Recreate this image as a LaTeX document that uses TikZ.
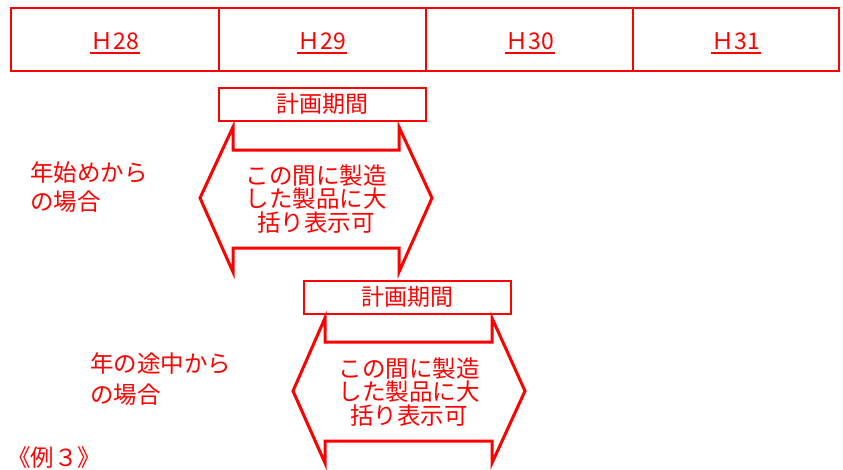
\documentclass[tikz,border=0pt]{standalone}
\usepackage{fontspec}
\setmainfont{Noto Sans CJK JP}
\usetikzlibrary{calc}
\definecolor{redA}{HTML}{FF0000}
\tikzset{
  tbl/.style={draw=redA,line width=2.2pt},
  yearlab/.style={text=redA,inner sep=0pt,anchor=base,font=\fontsize{23}{24}\selectfont},
  uline/.style={draw=redA,line width=2.4pt},
  periodbox/.style={draw=redA,line width=2pt,minimum width=207pt,minimum height=33pt,inner sep=0pt,text=redA,font=\fontsize{23}{24}\selectfont},
  arrowshape/.style={draw=redA,line width=3pt,line join=miter},
  arrowtext/.style={text=redA,align=center,inner sep=0pt,font=\fontsize{23.5}{23.5}\selectfont},
  sidelab/.style={text=redA,align=left,inner sep=0pt,anchor=west,font=\fontsize{23.5}{29.5}\selectfont}
}
\begin{document}
\begin{tikzpicture}[x=1pt,y=-1pt]
\useasboundingbox (0,0) rectangle (843,469);
% table
\draw[tbl] (11,8) rectangle (839,71);
\draw[tbl] (219,8) -- (219,71);
\draw[tbl] (426,8) -- (426,71);
\draw[tbl] (633,8) -- (633,71);
\node[yearlab] (h28) at (115,49) {Ｈ28};
\node[yearlab] (h29) at (322,49) {Ｈ29};
\node[yearlab] (h30) at (530,49) {Ｈ30};
\node[yearlab] (h31) at (736,49) {Ｈ31};
\foreach \n in {h28,h29,h30,h31}{
  \draw[uline] ($(\n.base west)+(-1,4)$) -- ($(\n.base east)+(1,4)$);
}
% first case
\node[periodbox] (p1) at (322.5,104) {計画期間};
\draw[arrowshape] (233,127) -- (233,150) -- (399,150) -- (399,127) -- (432,198)
  -- (399,272) -- (399,248) -- (233,248) -- (233,272) -- (200,198) -- cycle;
\node[arrowtext] (t1) at (316,199) {この間に製造\\した製品に大\\括り表示可};
\node[sidelab] (l1) at (30,187) {年始めから\\の場合};
% second case
\node[periodbox] (p2) at (407,297) {計画期間};
\draw[arrowshape] (325,318) -- (325,342) -- (492,342) -- (492,318) -- (525,391)
  -- (492,463) -- (492,441) -- (325,441) -- (325,463) -- (293,391) -- cycle;
\node[arrowtext] (t2) at (409,392) {この間に製造\\した製品に大\\括り表示可};
\node[sidelab,font=\fontsize{23.5}{31.5}\selectfont] (l2) at (90,379) {年の途中から\\の場合};
% example label
\node[text=redA,inner sep=0pt,anchor=west,font=\fontsize{23.5}{24}\selectfont] (ex) at (7,458) {《例３》};
\end{tikzpicture}
\end{document}
